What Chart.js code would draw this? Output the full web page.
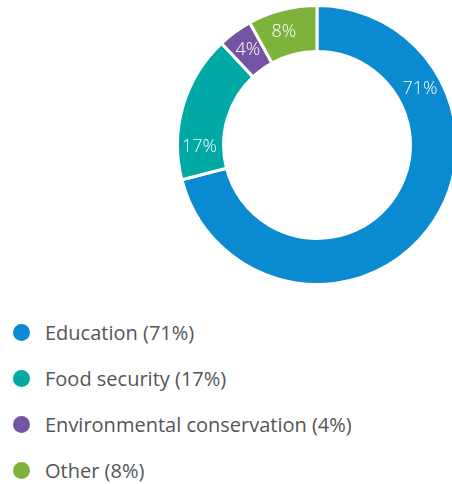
<!DOCTYPE html>
<html>
<head>
<meta charset="utf-8">
<script src="https://cdn.jsdelivr.net/npm/chart.js@4"></script>
<style>
  html, body { margin: 0; padding: 0; background: #fff; overflow: hidden; }
  #wrap { position: relative; width: 452px; height: 484px; overflow: hidden; }
  #donut { position: absolute; left: 176px; top: 4px; width: 282px; height: 282px; }
  #legend { position: absolute; left: 13px; top: 309px; font-family: "Open Sans", Lato, sans-serif; font-weight: 400; font-size: 20px; color: #555; }
  .item { height: 46px; display: flex; align-items: center; }
  .dot { width: 17px; height: 17px; border-radius: 50%; margin-right: 15px; }
</style>
</head>
<body>
<div id="wrap">
  <div id="donut"><canvas id="c"></canvas></div>
  <div id="legend"></div>
</div>
<script>
// data
const categories = ['Education', 'Food security', 'Environmental conservation', 'Other'];
const shares = [71, 17, 4, 8];
const colors = ['#0a8ad0', '#00a9a6', '#7454a2', '#7db33b'];
// where along each slice its label sits (0 = start, 1 = end)
const labelAt = [0.24, 0.22, 0.5, 0.43];

// labels inside the ring
const ringLabels = {
  id: 'ringLabels',
  afterDatasetsDraw(chart) {
    const ctx = chart.ctx;
    const arcs = chart.getDatasetMeta(0).data;
    ctx.save();
    ctx.fillStyle = '#fff';
    ctx.font = '300 18px "Open Sans", Lato, sans-serif';
    ctx.textAlign = 'center';
    ctx.textBaseline = 'middle';
    arcs.forEach((arc, i) => {
      const p = arc.getProps(['x', 'y', 'startAngle', 'endAngle', 'innerRadius', 'outerRadius'], true);
      const a = p.startAngle + (p.endAngle - p.startAngle) * labelAt[i];
      const r = (p.innerRadius + p.outerRadius) / 2 + 1;
      ctx.fillText(shares[i] + '%', p.x + Math.cos(a) * r, p.y + Math.sin(a) * r);
    });
    ctx.restore();
  }
};

new Chart('c', {
  type: 'doughnut',
  data: {
    labels: categories,
    datasets: [{
      data: shares,
      backgroundColor: colors,
      borderColor: '#fff',
      borderWidth: 3,
      hoverOffset: 0
    }]
  },
  options: {
    responsive: true,
    maintainAspectRatio: false,
    animation: false,
    cutout: '67%',
    layout: { padding: 0 },
    plugins: { legend: { display: false }, tooltip: { enabled: false } }
  },
  plugins: [ringLabels]
});

// legend list
const legend = document.getElementById('legend');
categories.forEach((name, i) => {
  const row = document.createElement('div');
  row.className = 'item';
  const dot = document.createElement('span');
  dot.className = 'dot';
  dot.style.background = colors[i];
  row.appendChild(dot);
  row.appendChild(document.createTextNode(name + ' (' + shares[i] + '%)'));
  legend.appendChild(row);
});
</script>
</body>
</html>
